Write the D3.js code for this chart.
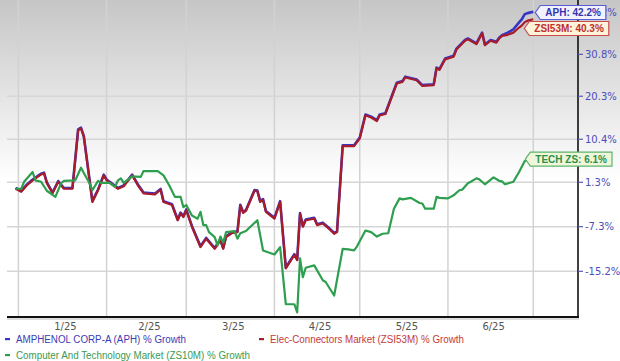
<!DOCTYPE html>
<html>
<head>
<meta charset="utf-8">
<script src="https://cdn.jsdelivr.net/npm/d3@7"></script>
<style>
body { margin: 0; background: #fff; }
svg { display: block; }
</style>
</head>
<body>
<svg width="620" height="361"></svg>
<script>
var width = 620;
var height = 361;
var plotLeft = 7;
var plotRight = 578;
var plotBottom = 317;

// y ticks, % growth (log scale of 1 + growth)
var tickValues = [42.2, 30.8, 20.3, 10.4, 1.3, -7.3, -15.2];
var monthStarts = ["2025-01-01", "2025-02-01", "2025-03-01", "2025-04-01", "2025-05-01", "2025-06-01", "2025-07-01"];

// APH and the Elec-Connectors industry share dates
var pairDates = [
    "2024-12-31","2025-01-02","2025-01-04","2025-01-06","2025-01-09","2025-01-10","2025-01-11","2025-01-13","2025-01-15","2025-01-17","2025-01-20","2025-01-22","2025-01-23","2025-01-24","2025-01-27","2025-01-29","2025-01-31",
    "2025-02-01","2025-02-05","2025-02-07","2025-02-10","2025-02-12","2025-02-14","2025-02-18","2025-02-20","2025-02-21","2025-02-24","2025-02-26","2025-02-27","2025-02-28",
    "2025-03-01","2025-03-03","2025-03-06","2025-03-08","2025-03-11","2025-03-13","2025-03-14","2025-03-15","2025-03-17","2025-03-19","2025-03-20","2025-03-21","2025-03-22","2025-03-25","2025-03-26","2025-03-27","2025-03-28","2025-03-29",
    "2025-04-01","2025-04-03","2025-04-05","2025-04-08","2025-04-09","2025-04-10","2025-04-11","2025-04-12","2025-04-15","2025-04-16","2025-04-18","2025-04-20","2025-04-22","2025-04-23","2025-04-25","2025-04-29",
    "2025-05-01","2025-05-03","2025-05-05","2025-05-07","2025-05-08","2025-05-10","2025-05-14","2025-05-16","2025-05-17","2025-05-21","2025-05-23","2025-05-27","2025-05-28","2025-05-29","2025-05-31",
    "2025-06-03","2025-06-04","2025-06-07","2025-06-08","2025-06-11","2025-06-13","2025-06-14","2025-06-16","2025-06-18","2025-06-19","2025-06-20","2025-06-22","2025-06-24","2025-06-26","2025-06-27","2025-06-28","2025-06-29",
    "2025-07-01"
];
var aphValues = [
    0.0,-0.6,0.7,1.7,2.9,3.1,1.1,-0.9,1.4,0.0,0.0,12.4,12.8,10.9,-2.6,-0.3,2.7,
    1.7,0.0,0.5,2.7,0.7,-0.9,-1.1,-0.2,-2.6,-3.2,-6.1,-4.8,-5.5,
    -4.2,-7.3,-11.0,-9.5,-11.3,-9.8,-11.3,-9.2,-8.5,-8.3,-3.3,-4.7,-4.3,-0.4,-0.5,-2.6,-2.2,-4.5,
    -5.8,-2.6,-14.7,-12.4,-13.3,-4.9,-7.3,-6.1,-5.8,-7.0,-6.7,-7.6,-8.6,-8.3,8.9,8.9,
    10.6,15.8,15.3,14.5,15.8,16.1,23.4,23.8,24.9,24.2,22.8,23.0,27.2,26.8,29.5,
    30.2,32.1,34.4,34.8,33.5,36.4,33.2,34.4,33.9,35.0,35.7,36.4,37.3,39.2,40.1,41.5,41.8,
    42.2
];
var zsiValues = [
    0.0,-0.6,0.7,1.7,2.9,3.1,1.1,-0.9,1.4,0.0,0.0,12.4,12.8,10.9,-2.6,-0.3,2.7,
    1.7,0.0,0.5,2.7,0.7,-0.9,-1.1,-0.2,-2.6,-3.2,-6.1,-4.8,-5.5,
    -4.2,-7.3,-11.0,-9.5,-11.3,-9.8,-11.3,-9.2,-8.5,-8.3,-3.3,-4.7,-4.3,-0.4,-0.5,-2.6,-2.2,-4.5,
    -5.8,-2.6,-14.7,-12.4,-13.3,-4.9,-7.3,-6.1,-5.8,-7.0,-6.7,-7.6,-8.6,-8.3,8.9,8.9,
    10.6,15.8,15.3,14.5,15.8,16.1,23.4,23.8,24.9,24.2,22.8,23.0,27.2,26.8,29.5,
    30.2,32.1,34.4,34.8,33.5,36.4,33.2,34.4,33.9,35.0,35.7,36.0,36.6,38.0,38.6,39.5,39.9,
    40.3
];

var techDates = [
    "2024-12-31","2025-01-02","2025-01-03","2025-01-06","2025-01-07","2025-01-09","2025-01-11","2025-01-14","2025-01-16","2025-01-17","2025-01-21","2025-01-23","2025-01-24","2025-01-26","2025-01-27","2025-01-29","2025-01-30",
    "2025-02-02","2025-02-04","2025-02-05","2025-02-06","2025-02-07","2025-02-10","2025-02-13","2025-02-14","2025-02-19","2025-02-21","2025-02-23","2025-02-25","2025-02-27","2025-02-28",
    "2025-03-01","2025-03-03","2025-03-05","2025-03-06","2025-03-07","2025-03-08","2025-03-09","2025-03-11","2025-03-12","2025-03-13","2025-03-14","2025-03-15","2025-03-18","2025-03-19","2025-03-20","2025-03-22","2025-03-26","2025-03-28",
    "2025-04-01","2025-04-03","2025-04-05","2025-04-08","2025-04-09","2025-04-10","2025-04-11","2025-04-12","2025-04-15","2025-04-18","2025-04-19","2025-04-22","2025-04-25","2025-04-27","2025-04-29","2025-04-30",
    "2025-05-03","2025-05-05","2025-05-07","2025-05-09","2025-05-11","2025-05-13","2025-05-15","2025-05-16","2025-05-19","2025-05-22","2025-05-23","2025-05-24","2025-05-27","2025-05-28","2025-05-29",
    "2025-06-01","2025-06-03","2025-06-05","2025-06-06","2025-06-08","2025-06-09","2025-06-11","2025-06-12","2025-06-14","2025-06-17","2025-06-19","2025-06-20","2025-06-21","2025-06-24","2025-06-26","2025-06-28",
    "2025-07-01"
];
var techValues = [
    0.0,0.0,1.4,3.4,1.7,1.4,-0.4,-1.6,1.1,1.6,1.7,4.3,3.2,1.1,-0.3,1.6,1.2,
    1.2,0.4,1.7,2.1,1.2,2.5,2.4,3.6,3.6,2.7,0.7,-1.6,-1.6,-3.6,
    -3.2,-5.2,-5.8,-4.5,-7.0,-7.0,-8.3,-9.2,-10.7,-9.1,-10.2,-8.3,-8.1,-9.5,-8.5,-8.1,-6.1,-11.6,
    -12.3,-11.0,-20.6,-20.6,-21.9,-13.0,-16.2,-14.6,-14.2,-16.7,-17.0,-19.2,-11.3,-11.4,-11.6,-10.9,
    -8.0,-8.3,-9.1,-8.6,-8.5,-3.9,-1.9,-2.1,-1.8,-2.8,-2.9,-3.9,-3.9,-1.6,-1.8,
    -1.9,-1.3,-0.3,-0.2,1.1,1.4,2.1,1.9,0.9,2.3,1.6,1.5,0.9,1.4,3.4,5.7,
    6.1
];

var parse = d3.timeParse("%Y-%m-%d");
function zip(dates, values) {
    return dates.map(function(d, i) { return {date: parse(d), value: values[i]}; });
}

var series = [
    {key: "APH", data: zip(pairDates, aphValues), color: "#3535c8", width: 2.6, shift: -0.8,
     legend: "AMPHENOL CORP-A (APH) % Growth", legendColor: "#3c3cb4",
     fill: "#f2f2ff", stroke: "#5a5ad2", textColor: "#3434b0", dx: 2},
    {key: "ZSI53M", data: zip(pairDates, zsiValues), color: "#a81c2a", width: 2.2, shift: 0,
     legend: "Elec-Connectors Market (ZSI53M) % Growth", legendColor: "#c43a3a",
     fill: "#fdf2da", stroke: "#cc4a4a", textColor: "#c03030", dx: -9},
    {key: "TECH ZS", data: zip(techDates, techValues), color: "#2e9e4f", width: 2.2, shift: 0,
     legend: "Computer And Technology Market (ZS10M) % Growth", legendColor: "#3a9a52",
     fill: "#eff6da", stroke: "#5cb56e", textColor: "#2e9048", dx: -8}
];

var x = d3.scaleTime()
    .domain([parse("2025-01-01"), parse("2025-07-01")])
    .range([18.4, 533.3]);
var y = d3.scaleLog()
    .domain([0.774, 1.458])
    .range([plotBottom, 0]);
function yv(v) { return y(1 + v / 100); }

var svg = d3.select("svg");

var grad = svg.append("defs").append("linearGradient")
    .attr("id", "bg").attr("x1", 0).attr("y1", 0).attr("x2", 0).attr("y2", 1);
grad.append("stop").attr("offset", 0).attr("stop-color", "#c6c6c6");
grad.append("stop").attr("offset", 0.5).attr("stop-color", "#ffffff");

svg.append("rect").attr("width", width).attr("height", height).attr("fill", "url(#bg)");

// grid
var months = monthStarts.map(parse);
var grid = svg.append("g");
grid.selectAll(".vg").data(months).enter().append("line")
    .attr("x1", function(d) { return x(d); }).attr("x2", function(d) { return x(d); })
    .attr("y1", 0).attr("y2", plotBottom)
    .attr("stroke", "#d2d2d2").attr("stroke-width", 1.5);
grid.selectAll(".hg").data(tickValues.slice(1)).enter().append("line")
    .attr("x1", plotLeft).attr("x2", plotRight)
    .attr("y1", function(d) { return yv(d); }).attr("y2", function(d) { return yv(d); })
    .attr("stroke", "#d6d6d6").attr("stroke-width", 1.5);

// x labels, centred in each month
var labelMonths = months.slice(0, -1);
svg.append("g").selectAll("text").data(labelMonths).enter().append("text")
    .attr("x", function(d, i) { return (x(d) + x(months[i + 1])) / 2 + 3; })
    .attr("y", 330)
    .attr("text-anchor", "middle")
    .style("font", "10px 'DejaVu Sans', sans-serif")
    .attr("fill", "#555")
    .text(d3.timeFormat("%-m/%y"));

// lines
var line = d3.line()
    .x(function(d) { return x(d.date); })
    .y(function(d) { return yv(d.value); });

svg.append("g").selectAll("path").data(series).enter().append("path")
    .attr("d", function(s) { return line(s.data); })
    .attr("transform", function(s) { return "translate(0," + s.shift + ")"; })
    .attr("fill", "none")
    .attr("stroke", function(s) { return s.color; })
    .attr("stroke-width", function(s) { return s.width; })
    .attr("stroke-linejoin", "round");

// axes
svg.append("line").attr("x1", plotLeft).attr("x2", plotRight + 1)
    .attr("y1", plotBottom + 2).attr("y2", plotBottom + 2)
    .attr("stroke", "#bbb").attr("stroke-width", 1);
svg.append("line").attr("x1", plotLeft).attr("x2", plotRight + 1)
    .attr("y1", plotBottom).attr("y2", plotBottom)
    .attr("stroke", "#111").attr("stroke-width", 2);
svg.append("line").attr("x1", plotRight).attr("x2", plotRight)
    .attr("y1", 0).attr("y2", plotBottom + 1)
    .attr("stroke", "#111").attr("stroke-width", 1.6);

var yTicks = svg.append("g");
yTicks.selectAll("line").data(tickValues).enter().append("line")
    .attr("x1", plotRight).attr("x2", plotRight + 5)
    .attr("y1", function(d) { return yv(d); }).attr("y2", function(d) { return yv(d); })
    .attr("stroke", "#5a5ab8").attr("stroke-width", 1.2);
yTicks.selectAll("text").data(tickValues).enter().append("text")
    .attr("x", plotRight + 7)
    .attr("y", function(d) { return yv(d) + 3.5; })
    .style("font", "10px 'DejaVu Sans', sans-serif")
    .attr("fill", "#4c4cbc")
    .text(function(d) { return d.toFixed(1) + "%"; });

// end labels
var ends = series.map(function(s) {
    var last = s.data[s.data.length - 1];
    return {s: s, x: x(last.date) + s.dx, y: yv(last.value), text: s.key + ": " + last.value.toFixed(1) + "%"};
});
var sorted = ends.slice().sort(function(a, b) { return a.y - b.y; });
var prev = -Infinity;
sorted.forEach(function(e) {
    e.cy = Math.max(e.y, 9, prev + 16);
    prev = e.cy;
});

var lab = svg.append("g").selectAll("g").data(ends).enter().append("g");
lab.each(function(e) {
    var g = d3.select(this);
    var path = g.append("path");
    var t = g.append("text")
        .attr("x", e.x + 10)
        .attr("y", e.cy + 3.6)
        .style("font", "bold 10px 'Liberation Sans', Arial, sans-serif")
        .attr("fill", e.s.textColor)
        .text(e.text);
    var w = t.node().getComputedTextLength();
    var r = e.x + 10 + w + 5;
    path.attr("d", "M" + e.x + "," + e.cy + "L" + (e.x + 5) + "," + (e.cy - 7) + "L" + r + "," + (e.cy - 7) +
            "L" + r + "," + (e.cy + 7) + "L" + (e.x + 5) + "," + (e.cy + 7) + "Z")
        .attr("fill", e.s.fill)
        .attr("stroke", e.s.stroke)
        .attr("stroke-width", 1.2);
});

// legend
var legendPos = [[5, 339], [259, 339], [5, 355]];
var legendWidths = [170, 194, 234];
var leg = svg.append("g").selectAll("g").data(series).enter().append("g")
    .attr("transform", function(s, i) { return "translate(" + legendPos[i][0] + "," + legendPos[i][1] + ")"; });
leg.append("rect").attr("x", 0).attr("y", -1).attr("width", 5).attr("height", 2.2)
    .attr("fill", function(s) { return s.color; });
leg.append("text")
    .attr("x", 11).attr("y", 3.6)
    .attr("textLength", function(s, i) { return legendWidths[i]; })
    .attr("lengthAdjust", "spacingAndGlyphs")
    .style("font", "10px 'Liberation Sans', Arial, sans-serif")
    .attr("fill", function(s) { return s.legendColor; })
    .text(function(s) { return s.legend; });
</script>
</body>
</html>
